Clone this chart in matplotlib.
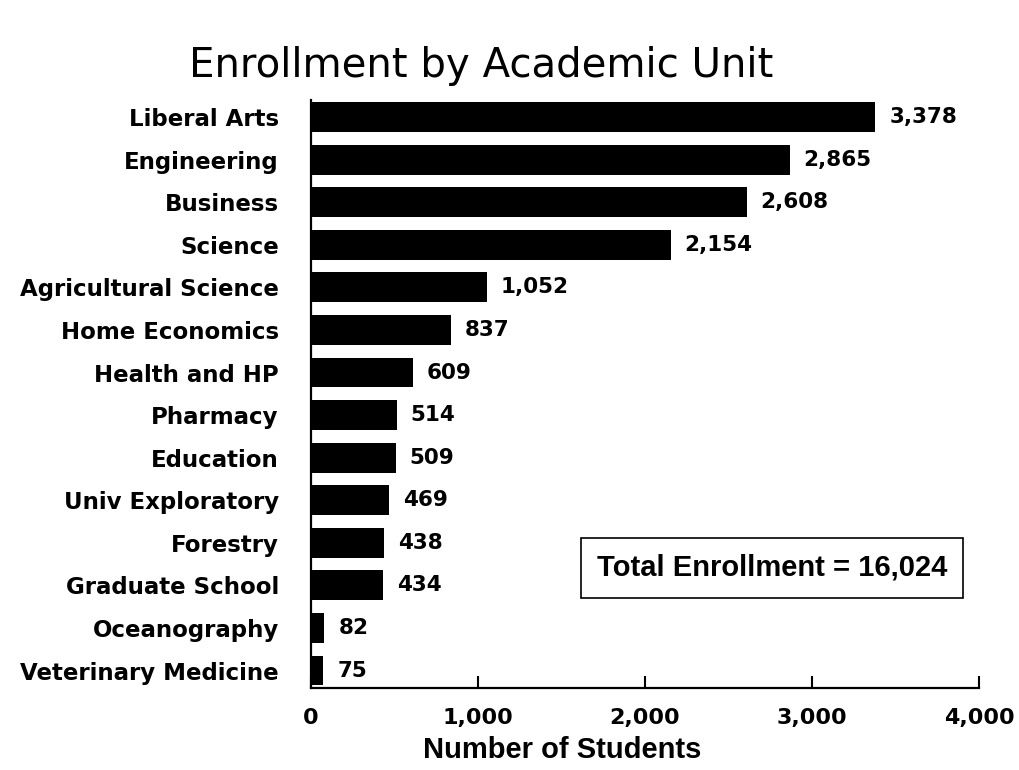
import matplotlib
matplotlib.use("Agg")
import matplotlib.pyplot as plt

units = ["Liberal Arts", "Engineering", "Business", "Science",
         "Agricultural Science", "Home Economics", "Health and HP",
         "Pharmacy", "Education", "Univ Exploratory", "Forestry",
         "Graduate School", "Oceanography", "Veterinary Medicine"]
students = [3378, 2865, 2608, 2154, 1052, 837, 609, 514, 509, 469,
            438, 434, 82, 75]
xticks = [0, 1000, 2000, 3000, 4000]
total = 16024

plt.rcParams['font.family'] = ['DejaVu Sans']

fig = plt.figure(figsize=(10.19, 7.7), dpi=100)
ax = fig.add_axes([0.305, 0.106, 0.656, 0.764])

pos = list(range(len(units)))
ax.barh(pos, students, height=0.7, color='black')
ax.set_ylim(13.42, -0.4)
ax.set_xlim(0, 4000)

for p, v in zip(pos, students):
    ax.annotate(f"{v:,}", (v, p), xytext=(10, 0), textcoords='offset points',
                va='center', ha='left', fontsize=15.5, fontweight='bold')

ax.set_yticks(pos)
ax.set_yticklabels(units, fontsize=16.5, fontweight='bold')
ax.set_xticks(xticks)
ax.set_xticklabels([f"{t:,}" for t in xticks], fontsize=16, fontweight='bold')
ax.tick_params(axis='y', length=0, pad=23)
ax.tick_params(axis='x', direction='in', length=9, width=1.5, pad=14)

for s in ['top', 'right']:
    ax.spines[s].set_visible(False)
for s in ['left', 'bottom']:
    ax.spines[s].set_linewidth(1.6)

fig.text(0.552, 0.026, "Number of Students", ha='center', va='center',
         fontsize=21, fontweight='bold', family='Liberation Sans')

ax.text(0.69, 0.205, f"Total Enrollment = {total:,}", transform=ax.transAxes,
        ha='center', va='center', fontsize=21, fontweight='bold',
        family='Liberation Sans',
        bbox=dict(boxstyle='square,pad=0.55', facecolor='white',
                  edgecolor='black', linewidth=1.2))

fig.text(0.472, 0.9, "Enrollment by Academic Unit", ha='center',
         va='baseline', fontsize=29)

fig.savefig("out.png", dpi=100)
